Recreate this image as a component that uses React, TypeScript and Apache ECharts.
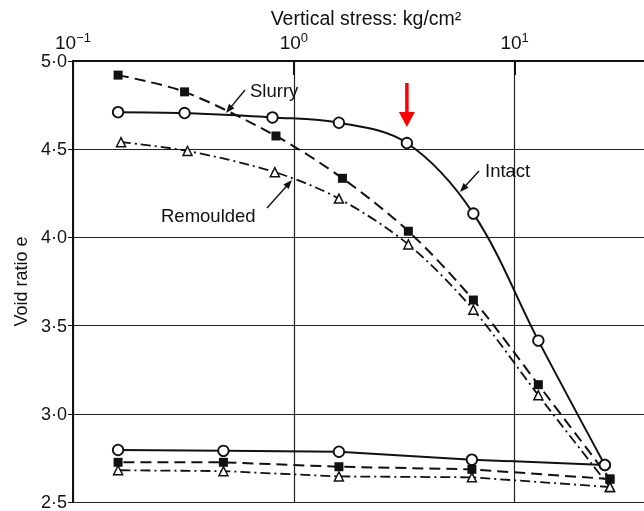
import React, { useEffect, useRef } from "react";
import * as echarts from "echarts";

// ---- data ----
const intactLoadX = [0.16, 0.32, 0.8, 1.6, 3.25, 6.5, 12.8, 25.6];
const intactLoadE = [4.71, 4.705, 4.68, 4.65, 4.535, 4.135, 3.415, 2.71];
const intactUnloadX = [25.6, 6.4, 1.6, 0.48, 0.16];
const intactUnloadE = [2.71, 2.74, 2.785, 2.79, 2.795];

const slurryLoadX = [0.16, 0.32, 0.83, 1.66, 3.3, 6.5, 12.8, 27];
const slurryLoadE = [4.92, 4.825, 4.575, 4.335, 4.035, 3.645, 3.165, 2.63];
const slurryUnloadX = [27, 6.4, 1.6, 0.48, 0.16];
const slurryUnloadE = [2.63, 2.685, 2.7, 2.725, 2.725];

const remouldLoadX = [0.165, 0.33, 0.82, 1.6, 3.3, 6.5, 12.8, 27];
const remouldLoadE = [4.54, 4.49, 4.37, 4.22, 3.96, 3.59, 3.105, 2.585];
const remouldUnloadX = [27, 6.4, 1.6, 0.48, 0.16];
const remouldUnloadE = [2.585, 2.64, 2.645, 2.675, 2.68];

const yallTicks = [2.5, 3.0, 3.5, 4.0, 4.5, 5.0];
const preconsolidation = [3.25, 4.535];

const titleText = "Vertical stress: kg/cm²";
const yName = "Void ratio e";
const labelSlurry = "Slurry";
const labelIntact = "Intact";
const labelRemoulded = "Remoulded";

const FONT = '"Liberation Sans", Arial, Helvetica, sans-serif';

const zip = (xs: number[], ys: number[]) => xs.map((x, i) => [x, ys[i]]);

function arrow(x1: number, y1: number, x2: number, y2: number, len: number, wid: number, color: string, lw: number) {
  const dx = x2 - x1, dy = y2 - y1;
  const L = Math.hypot(dx, dy);
  const ux = dx / L, uy = dy / L;
  const bx = x2 - ux * len, by = y2 - uy * len;
  const px = -uy, py = ux;
  return [
    { type: "line", silent: true, shape: { x1, y1, x2: bx + ux * 1, y2: by + uy * 1 }, style: { stroke: color, lineWidth: lw } },
    {
      type: "polygon", silent: true,
      shape: { points: [[x2, y2], [bx + (px * wid) / 2, by + (py * wid) / 2], [bx - (px * wid) / 2, by - (py * wid) / 2]] },
      style: { fill: color },
    },
  ];
}

export default function App() {
  const ref = useRef<HTMLDivElement>(null);
  useEffect(() => {
    if (!ref.current) return;
    document.body.style.overflow = "hidden";
    const chart = echarts.init(ref.current, null, { renderer: "svg" });
    const black = "#111";
    const circleItem = { color: "#fff", borderColor: black, borderWidth: 1.8 };
    const squareItem = { color: black, borderColor: black, borderWidth: 0 };
    const triItem = { color: "#fff", borderColor: black, borderWidth: 1.5 };
    const slurryDash = [11, 6];
    const remouldDash = [10, 4, 2, 4];

    const isPow10 = (v: number) => {
      const e = Math.round(Math.log10(v));
      return Math.abs(v - Math.pow(10, e)) / v < 1e-6 ? e : null;
    };

    const option: any = {
      animation: false,
      textStyle: { fontFamily: FONT },
      grid: { left: 73, top: 61, right: 0, bottom: 8 },
      xAxis: {
        type: "log",
        logBase: 10,
        min: 0.1,
        max: 44.1,
        position: "top",
        axisLine: { show: true, lineStyle: { color: black, width: 2 } },
        axisTick: { show: true, inside: true, length: 14, lineStyle: { color: black, width: 2 } },
        minorTick: { show: false },
        splitLine: { show: true, lineStyle: { color: "#222", width: 1.2 } },
        axisLabel: {
          margin: 8,
          color: black,
          formatter: (v: number) => {
            const e = isPow10(v);
            if (e === null) return "";
            const s = e < 0 ? "−" + Math.abs(e) : String(e);
            return "{b|10}{s|" + s + "}";
          },
          rich: {
            b: { fontSize: 19, fontFamily: FONT, color: black },
            s: { fontSize: 13, fontFamily: FONT, color: black, verticalAlign: "top", padding: [0, 0, 9, 0] },
          },
        },
      },
      yAxis: {
        type: "value",
        min: 2.5,
        max: 5.0,
        interval: 0.5,
        name: yName,
        nameLocation: "middle",
        nameGap: 42,
        nameTextStyle: { fontSize: 18, color: black, fontFamily: FONT },
        axisLine: { show: true, lineStyle: { color: black, width: 2 } },
        axisTick: { show: true, length: 5, lineStyle: { color: black, width: 1 } },
        splitLine: { show: true, lineStyle: { color: "#222", width: 1 } },
        axisLabel: {
          margin: 6,
          fontSize: 18,
          color: black,
          fontFamily: FONT,
          formatter: (v: number) => (yallTicks.some((t) => Math.abs(t - v) < 1e-9) ? v.toFixed(1).replace(".", "·") : ""),
        },
      },
      series: [
        {
          name: labelIntact, type: "line", smooth: 0.35, data: zip(intactLoadX, intactLoadE),
          symbol: "circle", symbolSize: 10.5, itemStyle: circleItem,
          lineStyle: { color: black, width: 2 }, z: 5,
        },
        {
          name: labelIntact + " unload", type: "line", data: zip(intactUnloadX, intactUnloadE),
          symbol: "circle", symbolSize: 10.5, itemStyle: circleItem,
          lineStyle: { color: black, width: 2 }, z: 5,
        },
        {
          name: labelSlurry, type: "line", smooth: 0.3, data: zip(slurryLoadX, slurryLoadE),
          symbol: "rect", symbolSize: 9, itemStyle: squareItem,
          lineStyle: { color: black, width: 2, type: slurryDash }, z: 4,
        },
        {
          name: labelSlurry + " unload", type: "line", data: zip(slurryUnloadX, slurryUnloadE),
          symbol: "rect", symbolSize: 9, itemStyle: squareItem,
          lineStyle: { color: black, width: 2, type: slurryDash }, z: 4,
        },
        {
          name: labelRemoulded, type: "line", smooth: 0.3, data: zip(remouldLoadX, remouldLoadE),
          symbol: "triangle", symbolSize: 9, itemStyle: triItem,
          lineStyle: { color: black, width: 1.8, type: remouldDash }, z: 4,
        },
        {
          name: labelRemoulded + " unload", type: "line", data: zip(remouldUnloadX, remouldUnloadE),
          symbol: "triangle", symbolSize: 9, itemStyle: triItem,
          lineStyle: { color: black, width: 1.8, type: remouldDash }, z: 4,
        },
      ],
    };
    chart.setOption(option);

    const p = chart.convertToPixel({ gridIndex: 0 }, preconsolidation) as number[];
    const rx = p[0], ry = p[1];
    const graphics: any[] = [
      {
        type: "text", x: 366, y: 18,
        style: { text: titleText, fontSize: 19.5, fontFamily: FONT, fill: black, align: "center", verticalAlign: "middle" },
      },
      { type: "text", x: 250, y: 90, style: { text: labelSlurry, fontSize: 18.5, fontFamily: FONT, fill: black, verticalAlign: "middle" } },
      { type: "text", x: 485, y: 170, style: { text: labelIntact, fontSize: 18.5, fontFamily: FONT, fill: black, verticalAlign: "middle" } },
      { type: "text", x: 161, y: 215, style: { text: labelRemoulded, fontSize: 18.5, fontFamily: FONT, fill: black, verticalAlign: "middle" } },
      ...arrow(245, 90, 226, 113, 9, 7, black, 1.4),
      ...arrow(267, 208, 292, 180, 9, 7, black, 1.4),
      ...arrow(479, 171, 460, 192, 9, 7, black, 1.4),
      ...arrow(rx, ry - 60, rx, ry - 16, 15, 16, "#ff0000", 3.5),
    ];
    chart.setOption({ graphic: graphics });

    return () => chart.dispose();
  }, []);
  return <div ref={ref} style={{ position: "fixed", left: 0, top: 0, width: 660, height: 511 }} />;
}
